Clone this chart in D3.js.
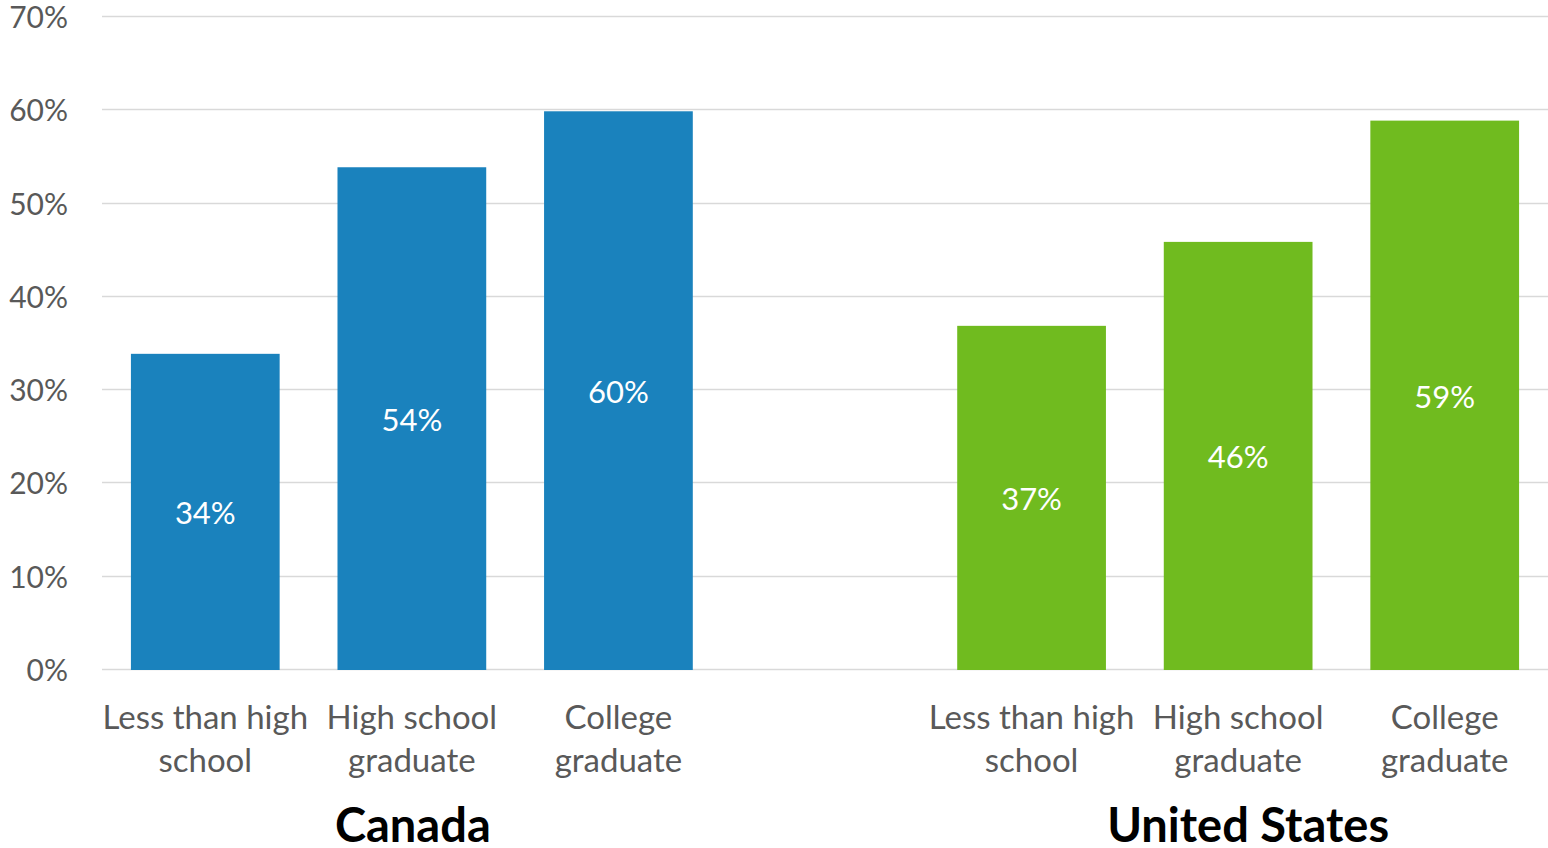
<!DOCTYPE html>
<html>
<head>
<meta charset="utf-8">
<script src="https://cdn.jsdelivr.net/npm/d3@7"></script>
<style>
html,body{margin:0;padding:0;background:#fff;}
svg{display:block;}
</style>
</head>
<body>
<svg id="chart" width="1548" height="848"></svg>
<script>
const groups = ["Canada", "United States"];
const categories = ["Less than high school", "High school graduate", "College graduate"];
const categoryLines = [["Less than high", "school"], ["High school", "graduate"], ["College", "graduate"]];
const canadaValues = [34, 54, 60];
const usValues = [37, 46, 59];
const groupColors = ["#1a82bd", "#70bb1f"];
const yTicks = [0, 10, 20, 30, 40, 50, 60, 70];

const font = "Lato, 'Open Sans', sans-serif";
const svg = d3.select("#chart");
const W = 1548, H = 848;
const m = {left: 102, right: 0, top: 17, bottom: 178};

const rows = [];
groups.forEach((g, gi) => {
  const vals = gi === 0 ? canadaValues : usValues;
  categories.forEach((c, ci) => rows.push({key: g + "|" + c, group: g, gi, ci, value: vals[ci]}));
});
const domain = [];
rows.forEach((r, i) => { domain.push(r.key); if (i === 2) domain.push("gap"); });

const x = d3.scaleBand().domain(domain).range([m.left, W - m.right]).paddingInner(0.28).paddingOuter(0.14);
const y = d3.scaleLinear().domain([0, 70]).range([H - m.bottom, m.top]);

// gridlines
svg.append("g").selectAll("line").data(yTicks).join("line")
  .attr("x1", m.left).attr("x2", W - m.right)
  .attr("y1", d => Math.round(y(d)) - 0.5).attr("y2", d => Math.round(y(d)) - 0.5)
  .attr("stroke", "#d9d9d9").attr("stroke-width", 1.5);

// y axis labels
const yAxis = d3.axisLeft(y).tickValues(yTicks).tickFormat(d => d + "%").tickSize(0).tickPadding(0);
const yg = svg.append("g").attr("transform", `translate(68,0)`).call(yAxis);
yg.select(".domain").remove();
yg.selectAll("text").attr("font-family", font).attr("font-size", 30).attr("fill", "#595959").attr("dy", "0.35em");

// bars
svg.append("g").selectAll("rect").data(rows).join("rect")
  .attr("x", d => x(d.key)).attr("width", x.bandwidth())
  .attr("y", d => y(d.value) + 1).attr("height", d => y(0) - y(d.value) - 1)
  .attr("fill", d => groupColors[d.gi]);

// value labels
svg.append("g").selectAll("text").data(rows).join("text")
  .attr("x", d => x(d.key) + x.bandwidth() / 2)
  .attr("y", d => (y(d.value) + y(0)) / 2 + 2)
  .attr("dy", "0.35em")
  .attr("text-anchor", "middle")
  .attr("font-family", font).attr("font-size", 31).attr("fill", "#fff")
  .text(d => d.value + "%");

// category labels
const cl = svg.append("g").selectAll("text").data(rows).join("text")
  .attr("text-anchor", "middle")
  .attr("font-family", font).attr("font-size", 33).attr("fill", "#595959");
cl.each(function(d) {
  const t = d3.select(this);
  categoryLines[d.ci].forEach((line, li) => {
    t.append("tspan").attr("x", x(d.key) + x.bandwidth() / 2).attr("y", 729 + li * 43).text(line);
  });
});

// group titles
svg.append("g").selectAll("text").data(groups).join("text")
  .attr("x", (g, gi) => {
    const mid = rows.filter(r => r.gi === gi)[1];
    return x(mid.key) + x.bandwidth() / 2 + (gi === 1 ? 10 : 1);
  })
  .attr("y", 842)
  .attr("text-anchor", "middle")
  .attr("font-family", font).attr("font-weight", "bold").attr("font-size", 47).attr("fill", "#000")
  .text(g => g);
</script>
</body>
</html>
